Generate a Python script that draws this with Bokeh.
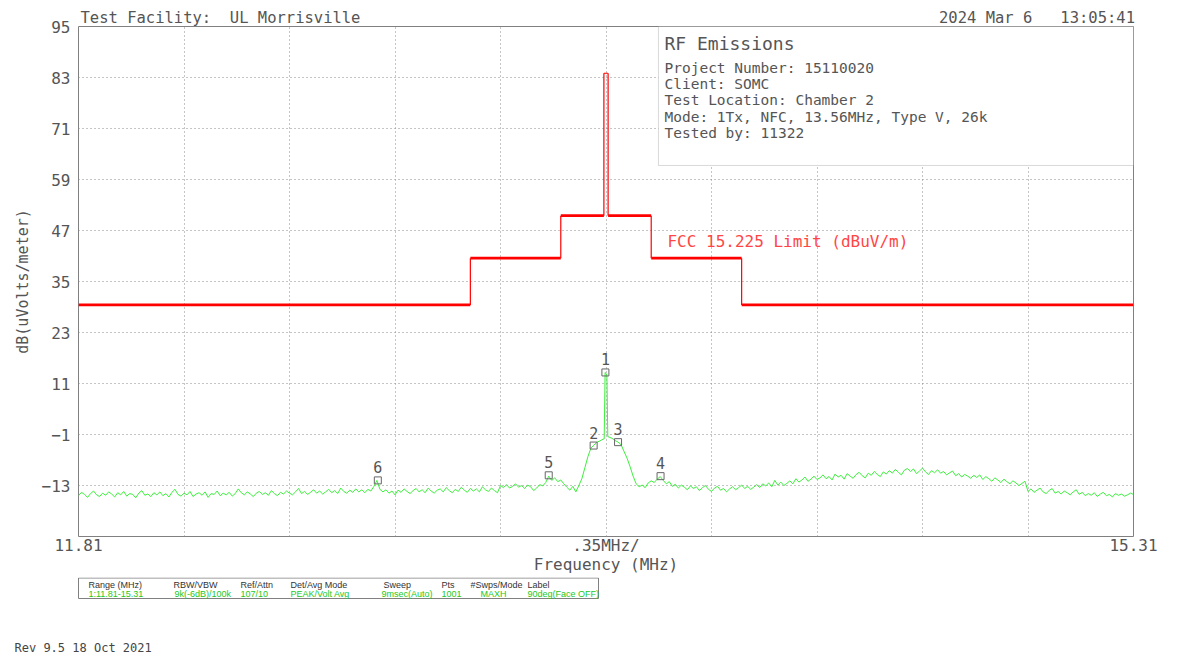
from bokeh.plotting import figure
from bokeh.layouts import column
from bokeh.models import Range1d, FixedTicker, Label, BoxAnnotation, ColumnDataSource
from bokeh.core.properties import value
from bokeh.embed import file_html
from bokeh.resources import INLINE

# ---------------- data ----------------
F_START, F_STOP = 11.81, 15.31
SWEEP_STEP = 0.01

trace_levels = [
    -15.4, -14.6, -15.1, -15.8, -14.9, -14.3, -15.2, -15.6, -14.8, -15.3,
    -14.5, -15.0, -15.7, -14.7, -15.2, -14.4, -15.5, -14.9, -15.1, -15.9,
    -14.8, -14.2, -15.3, -15.0, -15.6, -14.7, -15.2, -14.5, -15.4, -14.9,
    -15.7, -14.6, -13.9, -15.1, -15.5, -14.8, -15.2, -14.4, -15.6, -15.0,
    -14.7, -15.3, -14.5, -15.8, -14.9, -15.1, -14.3, -15.4, -14.8, -15.2,
    -14.6, -15.5, -14.9, -13.8, -14.7, -15.2, -14.5, -15.0, -15.6, -14.8,
    -14.4, -15.1, -14.7, -15.3, -14.2, -14.9, -15.4, -14.6, -15.0, -14.3,
    -14.8, -15.2, -14.5, -13.7, -14.9, -14.4, -15.1, -14.6, -14.0, -14.8,
    -14.3, -15.0, -14.5, -13.9, -14.7, -14.2, -14.9, -13.6, -14.4, -14.8,
    -14.1, -14.6, -13.8, -14.5, -14.0, -14.7, -13.9, -14.3, -13.2, -11.8,
    -13.9, -14.5, -14.0, -14.8, -14.3, -15.2, -14.1, -14.6, -13.8, -14.4,
    -14.9, -14.2, -13.7, -14.5, -14.0, -14.7, -13.6, -14.3, -14.8, -14.1,
    -13.8, -14.5, -13.5, -14.2, -14.7, -13.9, -14.4, -13.4, -14.1, -14.6,
    -13.7, -14.3, -13.8, -14.5, -13.3, -14.0, -14.4, -13.6, -14.2, -14.7,
    -13.0, -13.5, -12.8, -13.6, -13.2, -12.6, -13.4, -13.0, -13.7, -12.9,
    -13.3, -14.2, -13.6, -12.8, -13.1, -12.3, -10.8, -11.8, -11.2, -12.1,
    -11.7, -12.6, -13.4, -14.1, -13.2, -14.5, -13.0, -11.4, -8.8, -6.2,
    -4.2, -3.5, -2.8, -2.5, -2.1, 13.4, -1.6, -1.9, -2.4, -2.8,
    -3.4, -5.0, -6.6, -8.6, -10.8, -12.6, -13.3, -12.9, -13.5, -12.4,
    -11.9, -12.3, -11.5, -10.9, -11.8, -12.6, -12.1, -13.2, -12.7, -13.6,
    -12.9, -13.4, -14.0, -13.1, -13.7, -13.3, -14.2, -13.5, -13.0, -13.9,
    -14.4, -13.6, -13.2, -14.1, -13.7, -14.5, -13.8, -13.3, -14.0, -13.5,
    -12.9, -13.7, -13.2, -13.9, -13.4, -12.8, -13.5, -12.6, -13.1, -12.4,
    -13.3, -11.8, -12.9, -12.2, -13.0, -12.5, -11.9, -12.6, -11.4, -12.2,
    -11.7, -11.0, -12.0, -11.5, -10.8, -11.6, -11.2, -10.5, -11.4, -10.9,
    -11.7, -10.3, -11.0, -10.6, -11.5, -10.2, -10.8, -11.3, -10.4, -9.9,
    -10.7, -11.2, -10.1, -10.6, -9.7, -10.4, -10.9, -9.8, -10.3, -9.5,
    -10.1, -9.2, -9.9, -10.5, -9.4, -9.0, -9.7, -9.1, -10.2, -9.6,
    -8.9, -9.8, -10.4, -9.5, -10.0, -9.3, -10.1, -9.7, -10.5, -10.0,
    -9.6, -10.7, -10.2, -11.0, -10.4, -10.8, -11.3, -10.6, -11.1, -10.5,
    -11.6, -10.9, -11.4, -12.0, -11.2, -11.7, -12.3, -11.5, -12.1, -12.6,
    -11.9, -12.4, -13.0, -12.5, -12.0, -14.4, -13.8, -14.6, -14.1, -13.6,
    -14.5, -14.9, -14.2, -13.7, -14.8, -14.4, -15.0, -14.3, -14.7, -15.2,
    -14.5, -14.0, -15.1, -14.6, -15.4, -14.9, -15.3, -14.7, -15.6, -15.0,
    -14.6, -15.4, -15.1, -15.7, -14.9, -15.3, -15.0, -15.5, -15.2, -14.8,
    -15.1,
]
peak_freqs = [13.554, 13.557, 13.563, 13.566]
peak_levels = [-2.0, 13.6, 12.8, -1.5]

limit_edges = [11.81, 13.110, 13.410, 13.553, 13.567, 13.710, 14.010, 15.31]
limit_levels = [29.5, 40.5, 50.5, 84.0, 50.5, 40.5, 29.5]

marker_ids = ["1", "2", "3", "4", "5", "6"]
marker_freqs = [13.558, 13.519, 13.600, 13.741, 13.370, 12.803]
marker_levels = [13.6, -3.6, -2.8, -10.8, -10.6, -11.8]

y_ticks = [95, 83, 71, 59, 47, 35, 23, 11, -1, -13]
x_grid = [round(F_START + 0.35 * i, 2) for i in range(11)]
x_tick_labels = {11.81: "11.81", 13.56: ".35MHz/", 15.31: "15.31"}

header_left = "Test Facility:  UL Morrisville"
header_right = "2024 Mar 6   13:05:41"
info_title = "RF Emissions"
info_lines = ["Project Number: 15110020", "Client: SOMC", "Test Location: Chamber 2",
              "Mode: 1Tx, NFC, 13.56MHz, Type V, 26k", "Tested by: 11322"]
limit_name = "FCC 15.225 Limit (dBuV/m)"
table_headers = ["Range (MHz)", "RBW/VBW", "Ref/Attn", "Det/Avg Mode", "Sweep", "Pts", "#Swps/Mode", "Label"]
table_values = ["1:11.81-15.31", "9k(-6dB)/100k", "107/10", "PEAK/Volt Avg", "9msec(Auto)", "1001", "MAXH", "90deg(Face OFF)"]
revision = "Rev 9.5 18 Oct 2021"

# ---------------- build ----------------
sweep_freqs = [round(F_START + SWEEP_STEP * k, 3) for k in range(len(trace_levels))]
pts = sorted(list(zip(sweep_freqs, trace_levels)) + list(zip(peak_freqs, peak_levels)))
trace_x = [a for a, b in pts]
trace_y = [b for a, b in pts]

MONO = "DejaVu Sans Mono"
SMALL = "Liberation Sans"
GRAY = "#555555"
NBSP = "\u00a0"

p = figure(width=1200, height=577, output_backend="svg", toolbar_location=None,
           x_range=Range1d(F_START, F_STOP), y_range=Range1d(-25, 95),
           min_border_left=78, min_border_right=67, min_border_top=26, min_border_bottom=41)
try:
    p.frame_align = False
except Exception:
    pass
p.background_fill_color = "white"
p.border_fill_color = "white"
p.outline_line_color = "#808080"
p.outline_line_width = 1

# header as title (date padded with non-breaking spaces, monospace font)
p.title.text = header_left.replace(" ", NBSP) + NBSP * 62 + header_right.replace(" ", NBSP)
p.title.align = "left"
p.title.offset = 2
p.title.standoff = 0
p.title.text_font = MONO
p.title.text_font_size = "15.5px"
p.title.text_font_style = "normal"
p.title.text_color = GRAY

# axes
p.xaxis.ticker = FixedTicker(ticks=x_grid)
p.xaxis.major_label_overrides = {t: x_tick_labels.get(t, "") for t in x_grid}
p.yaxis.ticker = FixedTicker(ticks=y_ticks)
for ax in (p.xaxis[0], p.yaxis[0]):
    ax.axis_line_color = None
    ax.major_tick_line_color = None
    ax.minor_tick_line_color = None
    ax.major_tick_out = 0
    ax.major_tick_in = 0
    ax.minor_tick_out = 0
    ax.minor_tick_in = 0
    ax.major_label_text_font = MONO
    ax.major_label_text_font_size = "16px"
    ax.major_label_text_color = GRAY
    ax.axis_label_text_font = MONO
    ax.axis_label_text_font_size = "16px"
    ax.axis_label_text_color = GRAY
    ax.axis_label_text_font_style = "normal"
p.xaxis.axis_label = "Frequency (MHz)"
p.yaxis.axis_label = "dB(uVolts/meter)"
p.xaxis.major_label_standoff = -1
p.xaxis.axis_label_standoff = -3
p.yaxis.major_label_standoff = 8
p.yaxis.axis_label_standoff = 7
p.yaxis.axis_label_text_font_size = "15px"

p.xgrid.ticker = FixedTicker(ticks=x_grid)
p.ygrid.ticker = FixedTicker(ticks=y_ticks)
for g in (p.xgrid[0], p.ygrid[0]):
    g.grid_line_color = "#8a8a8a"
    g.grid_line_dash = "1 3"
    g.grid_line_width = 1

# limit line
h_src = ColumnDataSource(dict(x0=limit_edges[:-1], x1=limit_edges[1:], y=limit_levels,
                              w=[1.2 if lv > 80 else 2.6 for lv in limit_levels]))
p.segment(x0="x0", y0="y", x1="x1", y1="y", line_width="w", line_color="#ff0000", source=h_src)
p.segment(x0=limit_edges[1:-1], y0=limit_levels[:-1], x1=limit_edges[1:-1], y1=limit_levels[1:],
          line_width=1.2, line_color="#ff0000")

# trace
p.line(trace_x, trace_y, line_color="#3cf03c", line_width=1)

# markers
m_src = ColumnDataSource(dict(x=marker_freqs, y=marker_levels, t=marker_ids))
p.scatter("x", "y", marker="square", size=7, fill_color=None, line_color="#666666", line_width=1, source=m_src)
p.text("x", "y", text="t", source=m_src, y_offset=-13, text_align="center", text_baseline="middle",
       text_font=value(MONO), text_font_size="15px", text_color=GRAY)

# info box (data units, upper right corner of the frame)
p.add_layout(BoxAnnotation(left=13.734, right=F_STOP, top=95, bottom=62.3,
                           fill_color="white", fill_alpha=1.0, line_color="#808080", line_width=1))

def lab(text, x, y, size="15px", color=GRAY, align="left", font=MONO):
    p.add_layout(Label(x=x, y=y, text=text, text_font=font, text_font_size=size, text_color=color,
                       text_align=align, text_baseline="middle"))

lab(info_title, 13.754, 90.9, size="18px")
for i, s in enumerate(info_lines):
    lab(s, 13.754, 85.3 - 3.84 * i, size="14.5px")
lab(limit_name, 13.764, 44.3, size="16px", color="#ff4646")

# ---------------- footer: settings table + revision ----------------
f = figure(width=1200, height=76, output_backend="svg", toolbar_location=None,
           x_range=Range1d(0, 1200), y_range=Range1d(76, 0),
           x_axis_location=None, y_axis_location=None, min_border=0)
try:
    f.frame_align = False
except Exception:
    pass
f.outline_line_color = None
f.xgrid.visible = False
f.ygrid.visible = False
f.background_fill_color = "white"
f.border_fill_color = "white"

f.quad(left=78, right=598, top=0.5, bottom=21, fill_color=None, line_color="#808080", line_width=1)
head_x = [88, 173, 240, 290, 383, 441, 470, 527]
val_x = [88, 174, 240, 290, 381, 441, 480, 527]
f.text(x=head_x, y=[7] * len(head_x), text=table_headers, text_font=value(SMALL), text_font_size="9px",
       text_color="#333333", text_baseline="middle", text_align="left")
f.text(x=val_x, y=[16] * len(val_x), text=table_values, text_font=value(SMALL), text_font_size="9px",
       text_color="#22c822", text_baseline="middle", text_align="left")
f.text(x=[14], y=[70], text=[revision], text_font=value(MONO), text_font_size="12px",
       text_color="#444444", text_baseline="middle", text_align="left")

open("out.html", "w").write(file_html(column(p, f), INLINE))
